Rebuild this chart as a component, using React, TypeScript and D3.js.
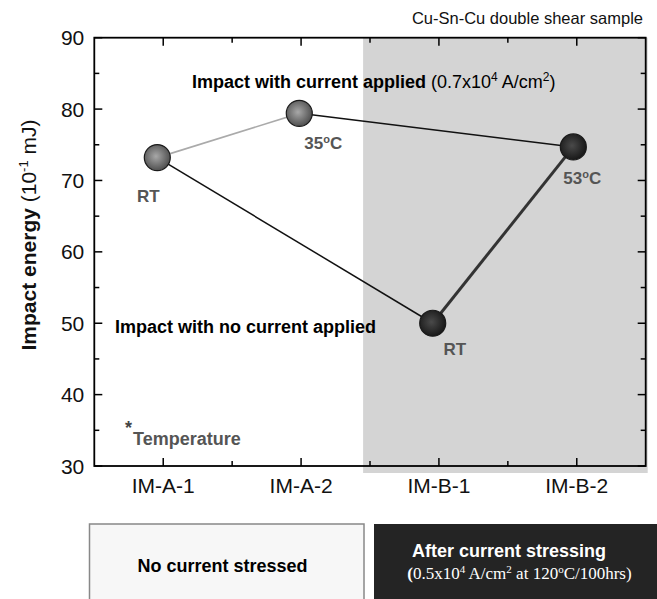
import React from "react";
import * as d3 from "d3";

const categories = ["IM-A-1", "IM-A-2", "IM-B-1", "IM-B-2"];
const pointX = [0.957, 1.987, 2.955, 3.975];
const energy = [73.2, 79.4, 50.0, 74.7];
const tempLabels = ["RT", "35", "RT", "53"];
const yTicks = [30, 40, 50, 60, 70, 80, 90];
const yMinorTicks = [35, 45, 55, 65, 75, 85];
const xMajorTicks = [1, 2, 3, 4];
const xMinorTicks = [1.5, 2.5, 3.5];
// segments: [from index, to index, style]
const segments: [number, number, string][] = [
  [0, 1, "light"],
  [1, 3, "thin"],
  [0, 2, "thin"],
  [2, 3, "thick"],
];

const W = 657;
const H = 599;
const FONT = "'Liberation Sans', Arial, sans-serif";
const SERIF = "'Liberation Serif', 'Times New Roman', serif";

export default function App() {
  const x = d3.scaleLinear().domain([0.5, 4.5]).range([94.3, 645.7]);
  const y = d3.scaleLinear().domain([30, 90]).range([466, 37.7]);
  const x0 = x(0.5), x1 = x(4.5), y0 = y(30), y1 = y(90);
  const segStyle: Record<string, { stroke: string; w: number }> = {
    light: { stroke: "#aaaaaa", w: 1.6 },
    thin: { stroke: "#111111", w: 1.5 },
    thick: { stroke: "#333333", w: 3 },
  };
  const labelPos = [
    { dx: -9, dy: 44 },
    { dx: 24, dy: 36 },
    { dx: 22, dy: 32 },
    { dx: 9, dy: 37 },
  ];
  return (
    <svg
      width={W}
      height={H}
      style={{ position: "fixed", left: 0, top: 0, display: "block", background: "#fff" }}
      fontFamily={FONT}
    >
      <defs>
        <radialGradient id="gA" cx="45%" cy="45%" r="60%">
          <stop offset="0%" stopColor="#a8a8a8" />
          <stop offset="100%" stopColor="#484848" />
        </radialGradient>
        <radialGradient id="gB" cx="45%" cy="45%" r="60%">
          <stop offset="0%" stopColor="#4a4a4a" />
          <stop offset="100%" stopColor="#141414" />
        </radialGradient>
      </defs>
      {/* shaded region */}
      <rect x={x(2.45)} y={y1} width={x1 + 2 - x(2.45)} height={y0 + 7 - y1} fill="#d4d4d4" />
      {/* title */}
      <text x={643} y={24} textAnchor="end" fontSize={16.5} fill="#111">
        Cu-Sn-Cu double shear sample
      </text>
      {/* frame */}
      <rect x={x0} y={y1} width={x1 - x0} height={y0 - y1} fill="none" stroke="#000" strokeWidth={1.8} />
      {/* y ticks */}
      {yTicks.map((t) => (
        <g key={"yt" + t}>
          <line x1={x0} x2={x0 + 8} y1={y(t)} y2={y(t)} stroke="#000" strokeWidth={1.5} />
          <line x1={x1} x2={x1 - 8} y1={y(t)} y2={y(t)} stroke="#000" strokeWidth={1.5} />
          <text x={x0 - 10} y={y(t) + 7.5} textAnchor="end" fontSize={21} fill="#111">
            {t}
          </text>
        </g>
      ))}
      {yMinorTicks.map((t) => (
        <g key={"ym" + t}>
          <line x1={x0} x2={x0 + 5} y1={y(t)} y2={y(t)} stroke="#000" strokeWidth={1.5} />
          <line x1={x1} x2={x1 - 5} y1={y(t)} y2={y(t)} stroke="#000" strokeWidth={1.5} />
        </g>
      ))}
      {xMajorTicks.map((t) => (
        <g key={"xt" + t}>
          <line x1={x(t)} x2={x(t)} y1={y0} y2={y0 - 8} stroke="#000" strokeWidth={1.5} />
          <line x1={x(t)} x2={x(t)} y1={y1} y2={y1 + 8} stroke="#000" strokeWidth={1.5} />
        </g>
      ))}
      {xMinorTicks.map((t) => (
        <g key={"xm" + t}>
          <line x1={x(t)} x2={x(t)} y1={y0} y2={y0 - 5} stroke="#000" strokeWidth={1.5} />
          <line x1={x(t)} x2={x(t)} y1={y1} y2={y1 + 5} stroke="#000" strokeWidth={1.5} />
        </g>
      ))}
      {categories.map((c, i) => (
        <text key={c} x={x(i + 1)} y={492.5} textAnchor="middle" fontSize={21} fill="#111">
          {c}
        </text>
      ))}
      {/* y axis title */}
      <text transform="translate(36,235) rotate(-90)" textAnchor="middle" fontSize={21} fill="#111">
        <tspan fontWeight="bold">Impact energy </tspan>
        <tspan>(10</tspan>
        <tspan dy={-8} fontSize={13}>-1</tspan>
        <tspan dy={8}> mJ)</tspan>
      </text>
      {/* lines */}
      {segments.map(([a, b, s], i) => (
        <line
          key={"s" + i}
          x1={x(pointX[a])}
          y1={y(energy[a])}
          x2={x(pointX[b])}
          y2={y(energy[b])}
          stroke={segStyle[s].stroke}
          strokeWidth={segStyle[s].w}
        />
      ))}
      {/* points */}
      {energy.map((v, i) => (
        <circle
          key={"p" + i}
          cx={x(pointX[i])}
          cy={y(v)}
          r={13}
          fill={i < 2 ? "url(#gA)" : "url(#gB)"}
          stroke="#1a1a1a"
          strokeWidth={1.2}
        />
      ))}
      {/* temperature labels */}
      {tempLabels.map((t, i) => (
        <text
          key={"tl" + i}
          x={x(pointX[i]) + labelPos[i].dx}
          y={y(energy[i]) + labelPos[i].dy}
          textAnchor="middle"
          fontSize={17}
          fontWeight="bold"
          fill="#555"
        >
          {t === "RT" ? (
            "RT"
          ) : (
            <>
              <tspan>{t}</tspan>
              <tspan dy={-6} fontSize={11}>o</tspan>
              <tspan dy={6}>C</tspan>
            </>
          )}
        </text>
      ))}
      {/* annotations */}
      <text x={192} y={88.3} fontSize={18} fill="#000">
        <tspan fontWeight="bold">Impact with current applied</tspan>
        <tspan> (0.7x10</tspan>
        <tspan dy={-7} fontSize={12}>4</tspan>
        <tspan dy={7}> A/cm</tspan>
        <tspan dy={-7} fontSize={12}>2</tspan>
        <tspan dy={7}>)</tspan>
      </text>
      <text x={115} y={333.3} fontSize={18} fontWeight="bold" fill="#000">
        Impact with no current applied
      </text>
      <text x={125} y={434} fontSize={18} fontWeight="bold" fill="#444">*</text>
      <text x={133} y={445} fontSize={18} fontWeight="bold" fill="#555">
        Temperature
      </text>
      {/* bottom boxes */}
      <rect x={89.5} y={524} width={274.5} height={H - 524 + 5} fill="#f7f7f7" stroke="#888" strokeWidth={1.5} />
      <text x={222.5} y={571.7} textAnchor="middle" fontSize={18} fontWeight="bold" fill="#000">
        No current stressed
      </text>
      <rect x={374} y={524} width={W - 374 + 5} height={H - 524 + 5} fill="#242424" />
      <text x={509} y={557} textAnchor="middle" fontSize={18} fontWeight="bold" fill="#fff">
        After current stressing
      </text>
      <text x={519.5} y={579} textAnchor="middle" fontSize={17} fill="#fff" fontFamily={SERIF}>
        <tspan fontWeight="bold">(</tspan>
        <tspan>0.5x10</tspan>
        <tspan dy={-6} fontSize={11}>4</tspan>
        <tspan dy={6}> A/cm</tspan>
        <tspan dy={-6} fontSize={11}>2</tspan>
        <tspan dy={6}> at 120</tspan>
        <tspan dy={-6} fontSize={11}>o</tspan>
        <tspan dy={6}>C/100hrs)</tspan>
      </text>
    </svg>
  );
}
